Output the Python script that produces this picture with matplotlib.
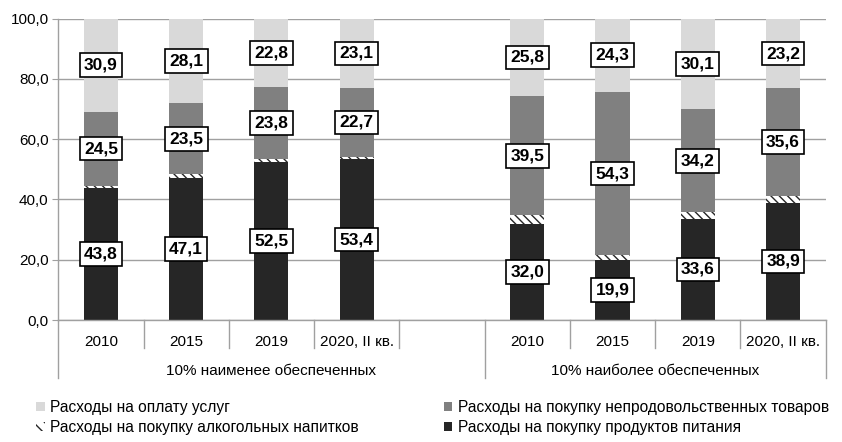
import matplotlib
matplotlib.use("Agg")
import matplotlib.pyplot as plt
import matplotlib.transforms as mtransforms
from matplotlib.lines import Line2D
from matplotlib.patches import Patch
import numpy as np

plt.rcParams['font.family'] = ['Liberation Sans', 'DejaVu Sans']

# data (% of consumer spending)
years = ["2010", "2015", "2019", "2020, II кв."]
groups = ["10% наименее обеспеченных", "10% наиболее обеспеченных"]
food = [43.8, 47.1, 52.5, 53.4, 32.0, 19.9, 33.6, 38.9]
alcohol = [0.8, 1.3, 0.9, 0.8, 2.7, 1.5, 2.1, 2.3]
nonfood = [24.5, 23.5, 23.8, 22.7, 39.5, 54.3, 34.2, 35.6]
services = [30.9, 28.1, 22.8, 23.1, 25.8, 24.3, 30.1, 23.2]

names = ["Расходы на оплату услуг",
         "Расходы на покупку непродовольственных товаров",
         "Расходы на покупку алкогольных напитков",
         "Расходы на покупку продуктов питания"]

c_food = "#262626"
c_nonfood = "#808080"
c_serv = "#d9d9d9"
c_line = "#a0a0a0"

# 9 category slots, slot 4 left empty between the two groups
x = np.array([0, 1, 2, 3, 5, 6, 7, 8])
w = 0.4

fig = plt.figure(figsize=(8.42, 4.42), dpi=100)
ax = fig.add_axes([0.0692, 0.276, 0.9114, 0.682])

food = np.array(food)
alcohol = np.array(alcohol)
nonfood = np.array(nonfood)
services = np.array(services)

ax.bar(x, food, w, color=c_food, zorder=2)
ax.bar(x, alcohol, w, bottom=food, facecolor="white", edgecolor=c_food,
       hatch="\\\\\\\\", linewidth=0, zorder=2)
ax.bar(x, nonfood, w, bottom=food + alcohol, color=c_nonfood, zorder=2)
ax.bar(x, services, w, bottom=food + alcohol + nonfood, color=c_serv, zorder=2)

def add_labels(vals, bottoms):
    for xi, v, b in zip(x, vals, bottoms):
        ax.text(xi, b + v / 2, f"{v:.1f}".replace(".", ","), ha="center", va="center",
                fontsize=12.5, fontweight="bold", zorder=5,
                bbox=dict(boxstyle="square,pad=0.25", facecolor="white",
                          edgecolor="black", linewidth=1.2))

add_labels(food, np.zeros(len(x)))
add_labels(nonfood, food + alcohol)
add_labels(services, food + alcohol + nonfood)

ax.set_xlim(-0.5, 8.5)
ax.set_ylim(0, 100)
ax.set_yticks(np.arange(0, 101, 20))
ax.set_yticklabels([f"{v:.1f}".replace(".", ",") for v in np.arange(0, 101, 20)], fontsize=11)
ax.yaxis.grid(True, color=c_line, linewidth=1, zorder=0)
ax.set_axisbelow(True)
ax.tick_params(axis="y", length=4, color=c_line, pad=3)
ax.set_xticks([])
for s in ["top", "right"]:
    ax.spines[s].set_visible(False)
for s in ["left", "bottom"]:
    ax.spines[s].set_color(c_line)
    ax.spines[s].set_linewidth(1)

# two-level category axis
trans = mtransforms.blended_transform_factory(ax.transData, fig.transFigure)
y0 = 0.276
y_short = 0.2127
y_long = 0.1448
for b in [0.5, 1.5, 2.5, 3.5, 5.5, 6.5, 7.5]:
    fig.add_artist(Line2D([b, b], [y0, y_short], transform=trans, color=c_line, linewidth=1))
for b in [-0.5, 4.5, 8.5]:
    fig.add_artist(Line2D([b, b], [y0, y_long], transform=trans, color=c_line, linewidth=1))

for xi, lab in zip(x, years * 2):
    ax.text(xi, 0.2262, lab, transform=trans, ha="center", va="center", fontsize=11)
for gx, g in zip([2, 6.5], groups):
    ax.text(gx, 0.1606, g, transform=trans, ha="center", va="center", fontsize=11)

h_serv = Patch(facecolor=c_serv, edgecolor="none")
h_non = Patch(facecolor=c_nonfood, edgecolor="none")
h_alc = Patch(facecolor="white", edgecolor=c_food, hatch="\\\\\\", linewidth=0)
h_food = Patch(facecolor=c_food, edgecolor="none")

leg_kw = dict(frameon=False, fontsize=11.2, handlelength=0.55, handleheight=0.55,
              handletextpad=0.35, labelspacing=0.32, borderpad=0, borderaxespad=0,
              loc="upper left")
fig.legend([h_serv, h_alc], [names[0], names[2]], bbox_to_anchor=(0.043, 0.095), **leg_kw)
fig.legend([h_non, h_food], [names[1], names[3]], bbox_to_anchor=(0.527, 0.095), **leg_kw)

fig.savefig("out.png", dpi=100)
